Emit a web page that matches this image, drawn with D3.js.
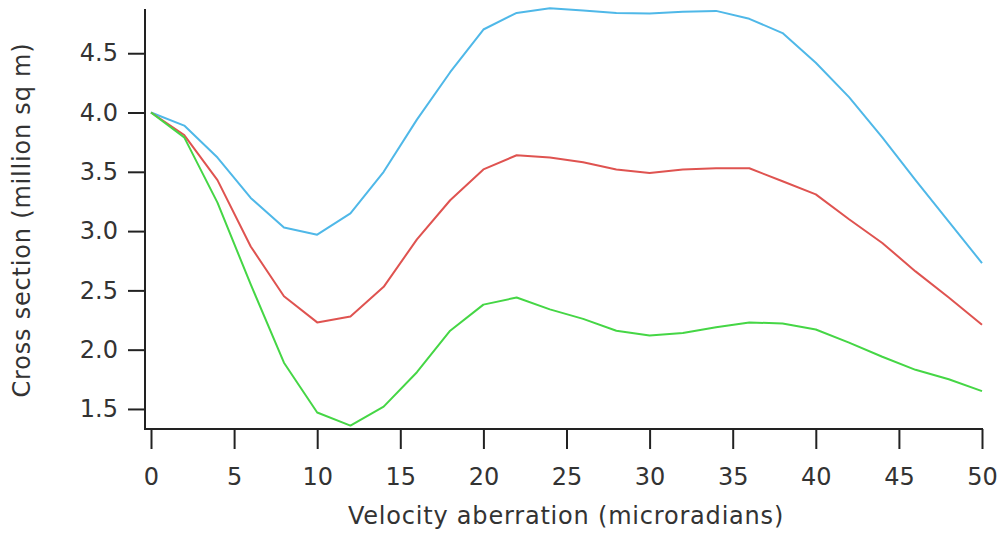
<!DOCTYPE html>
<html>
<head>
<meta charset="utf-8">
<script src="https://cdn.jsdelivr.net/npm/d3@7"></script>
<style>
  body { margin: 0; background: #fff; }
  svg { display: block; }
  .tick text, .title { font-family: "DejaVu Sans", Verdana, sans-serif; fill: #333; }
</style>
</head>
<body>
<div class="container"></div>
<script>
const width = 1005;
const height = 533;

// velocity aberration (microradians), sampled every 2
const velocity = d3.range(0, 51, 2);

// cross section (million sq m)
const blue = [4.0, 3.89, 3.62, 3.28, 3.03, 2.97, 3.15, 3.5, 3.94, 4.34, 4.7, 4.84, 4.88,
  4.86, 4.84, 4.835, 4.85, 4.857, 4.79, 4.67, 4.42, 4.13, 3.79, 3.43, 3.08, 2.73];
const red = [4.0, 3.81, 3.43, 2.87, 2.45, 2.23, 2.28, 2.53, 2.93, 3.26, 3.52, 3.64, 3.62,
  3.58, 3.52, 3.49, 3.52, 3.53, 3.53, 3.42, 3.31, 3.1, 2.9, 2.66, 2.44, 2.21];
const green = [4.0, 3.79, 3.24, 2.55, 1.89, 1.47, 1.36, 1.52, 1.81, 2.16, 2.38, 2.44, 2.34,
  2.26, 2.16, 2.12, 2.14, 2.19, 2.23, 2.22, 2.17, 2.06, 1.94, 1.83, 1.75, 1.65];

const xTicks = [0, 5, 10, 15, 20, 25, 30, 35, 40, 45, 50];
const yTicks = [1.5, 2.0, 2.5, 3.0, 3.5, 4.0, 4.5];

const series = [
  { name: 'blue', values: blue, color: '#4fb8e8' },
  { name: 'red', values: red, color: '#df5350' },
  { name: 'green', values: green, color: '#45d645' },
];

const x = d3.scaleLinear().domain([0, 50]).range([151, 982]);
const y = d3.scaleLinear().domain([1.331, 4.873]).range([429, 9]);

const svg = d3.select('.container')
  .append('svg')
  .attr('width', width)
  .attr('height', height);

// lines
const line = d3.line()
  .x((d, i) => x(velocity[i]))
  .y(d => y(d));

svg.selectAll('path.series')
  .data(series)
  .enter()
  .append('path')
  .attr('class', 'series')
  .attr('fill', 'none')
  .attr('stroke', d => d.color)
  .attr('stroke-width', 2)
  .attr('stroke-linejoin', 'round')
  .attr('d', d => line(d.values));

// x axis
const xAxis = svg.append('g')
  .attr('transform', `translate(0, ${y.range()[0]})`)
  .call(d3.axisBottom(x).tickValues(xTicks).tickSize(20).tickPadding(19).tickFormat(d3.format('d')));
xAxis.select('.domain').remove();
xAxis.selectAll('.tick line').attr('stroke', '#222').attr('stroke-width', 2);
xAxis.selectAll('.tick text').attr('font-size', 24);
xAxis.append('line')
  .attr('x1', 144).attr('x2', x(50) + 1)
  .attr('stroke', '#222').attr('stroke-width', 2);

// y axis
const yAxis = svg.append('g')
  .attr('transform', 'translate(145, 0)')
  .call(d3.axisLeft(y).tickValues(yTicks).tickSize(17).tickPadding(10).tickFormat(d3.format('.1f')));
yAxis.select('.domain').remove();
yAxis.selectAll('.tick line').attr('stroke', '#222').attr('stroke-width', 2);
yAxis.selectAll('.tick text').attr('font-size', 24);
yAxis.append('line')
  .attr('y1', y.range()[1]).attr('y2', y.range()[0] + 1)
  .attr('stroke', '#222').attr('stroke-width', 2);

// titles
svg.append('text')
  .attr('class', 'title')
  .attr('x', 566)
  .attr('y', 524)
  .attr('text-anchor', 'middle')
  .attr('font-size', 24)
  .attr('letter-spacing', 0.8)
  .text('Velocity aberration (microradians)');

svg.append('text')
  .attr('class', 'title')
  .attr('transform', 'translate(30, 220) rotate(-90)')
  .attr('text-anchor', 'middle')
  .attr('font-size', 24)
  .attr('letter-spacing', 0.8)
  .text('Cross section (million sq m)');
</script>
</body>
</html>
